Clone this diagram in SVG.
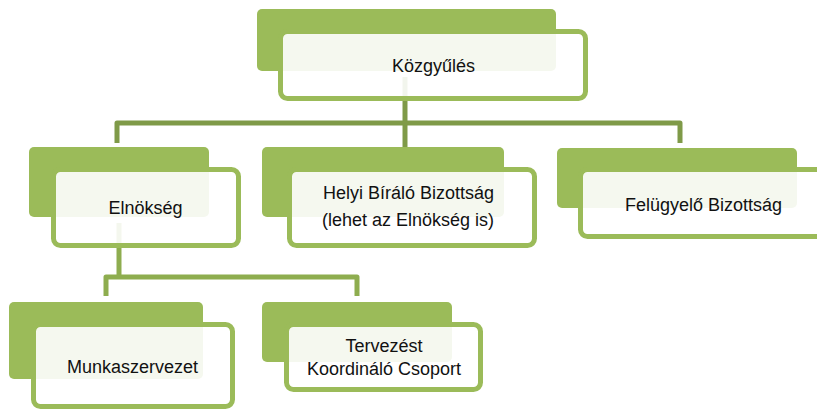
<svg xmlns="http://www.w3.org/2000/svg" width="817" height="410" viewBox="0 0 817 410">
<style>
.back{fill:#9BBB59}
.front{fill:#FFFFFF;fill-opacity:0.9;stroke:#9BBB59;stroke-width:5}
.lbl{font-family:"Liberation Sans",Arial,sans-serif;font-size:18px;fill:#111;text-anchor:middle}
.c1{fill:none;stroke:#7F9A48;stroke-width:5;stroke-linejoin:round}
.c2{fill:none;stroke:#8EAD4F;stroke-width:5;stroke-linejoin:round}
</style>
<rect width="817" height="410" fill="#FFFFFF"/>
<g id="connectors">
<path class="c1" d="M405,77 V147"/>
<path class="c1" d="M117,143 V123 H680 V143"/>
<path class="c2" d="M119,223 V277"/>
<path class="c2" d="M106,296 V277 H357 V296"/>
</g>
<g id="kozgyules">
<rect class="back" x="257" y="9" width="299" height="62" rx="5"/>
<rect class="front" x="280.5" y="31.5" width="305" height="67" rx="7"/>
<text class="lbl" x="433.5" y="72">Közgyűlés</text>
</g>
<g id="elnokseg">
<rect class="back" x="29" y="147" width="180" height="70" rx="5"/>
<rect class="front" x="53.5" y="169.5" width="185" height="76" rx="7"/>
<text class="lbl" x="145.5" y="214">Elnökség</text>
</g>
<g id="helyi">
<rect class="back" x="262" y="147" width="242" height="70" rx="5"/>
<rect class="front" x="289.5" y="169.5" width="245" height="76" rx="7"/>
<text class="lbl" x="408.5" y="199">Helyi Bíráló Bizottság</text>
<text class="lbl" x="408" y="226">(lehet az Elnökség is)</text>
</g>
<g id="felugyelo">
<rect class="back" x="557" y="148" width="240" height="60" rx="5"/>
<rect class="front" x="580.5" y="169.5" width="260" height="67" rx="7"/>
<text class="lbl" x="703.5" y="211">Felügyelő Bizottság</text>
</g>
<g id="munkaszervezet">
<rect class="back" x="9" y="302" width="194" height="77" rx="5"/>
<rect class="front" x="33.5" y="324.5" width="199" height="82" rx="7"/>
<text class="lbl" x="132.5" y="373">Munkaszervezet</text>
</g>
<g id="tervezest">
<rect class="back" x="262" y="302" width="190" height="60" rx="5"/>
<rect class="front" x="286.5" y="324.5" width="194" height="65" rx="7"/>
<text class="lbl" x="384" y="352">Tervezést</text>
<text class="lbl" x="384" y="375">Koordináló Csoport</text>
</g>
</svg>
